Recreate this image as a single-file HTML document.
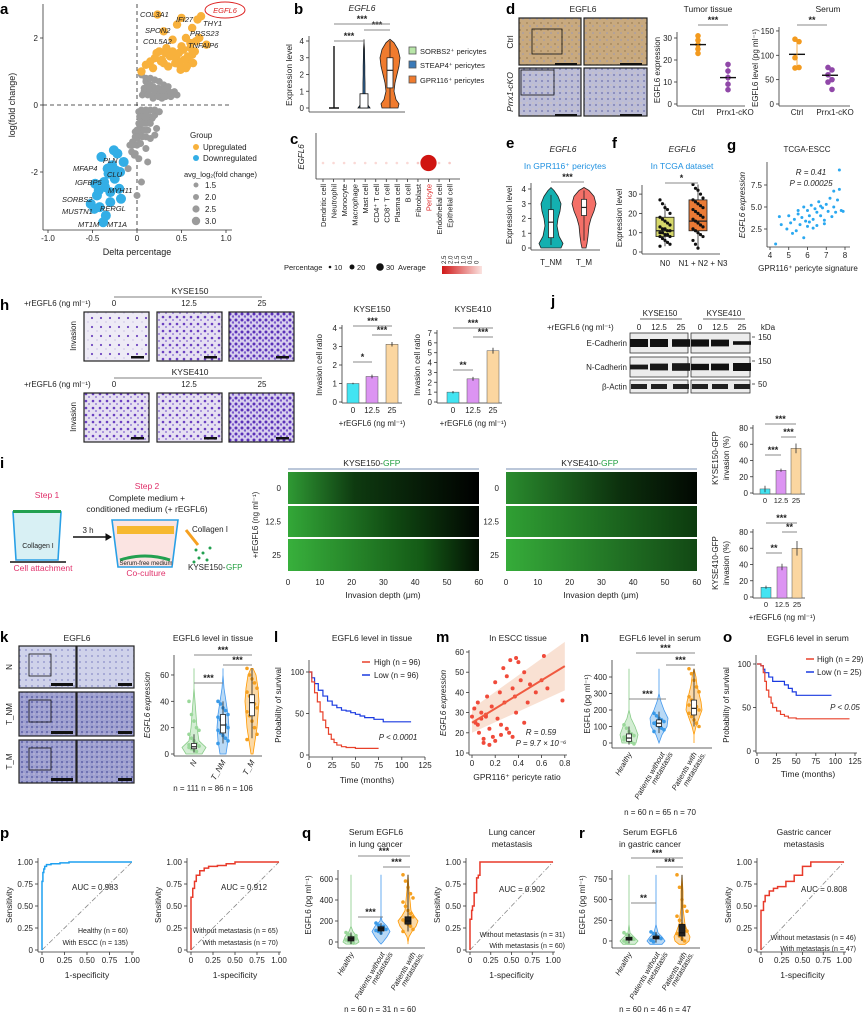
<!DOCTYPE html>
<html><head><meta charset="utf-8">
<style>
html,body{margin:0;padding:0;background:#fff;}
svg{display:block;font-family:"Liberation Sans",sans-serif;}
</style></head>
<body>
<svg id="fig" xmlns="http://www.w3.org/2000/svg" width="865" height="1014" viewBox="0 0 865 1014">
<defs>
<pattern id="brownTex" width="7" height="7" patternUnits="userSpaceOnUse"><rect width="7" height="7" fill="#c8a97e"/><circle cx="2" cy="2" r="1" fill="#a98a60"/><circle cx="5" cy="5" r="0.8" fill="#9a9ab8"/></pattern>
<pattern id="blueTex" width="6" height="6" patternUnits="userSpaceOnUse"><rect width="6" height="6" fill="#bcbdd6"/><circle cx="2" cy="3" r="1" fill="#7f82b8"/><circle cx="5" cy="1" r="0.6" fill="#d8c8b0"/></pattern>
<pattern id="pur1" width="9" height="9" patternUnits="userSpaceOnUse"><rect width="9" height="9" fill="#eeebf6"/><circle cx="2" cy="3" r="1.1" fill="#7048c0"/><circle cx="7" cy="7" r="0.6" fill="#b8a8dc"/></pattern>
<pattern id="pur2" width="7" height="7" patternUnits="userSpaceOnUse"><rect width="7" height="7" fill="#e6e0f2"/><circle cx="2" cy="2" r="1.3" fill="#6a40c0"/><circle cx="5" cy="5" r="1" fill="#9a80d8"/></pattern>
<pattern id="pur3" width="6" height="6" patternUnits="userSpaceOnUse"><rect width="6" height="6" fill="#d8cfee"/><circle cx="2" cy="2" r="1.5" fill="#5a30b8"/><circle cx="5" cy="4.5" r="1.2" fill="#7a58cc"/></pattern>
<pattern id="kTexN" width="6" height="6" patternUnits="userSpaceOnUse"><rect width="6" height="6" fill="#cfd2ea"/><circle cx="2" cy="2" r="0.9" fill="#8a8ec8"/></pattern>
<pattern id="kTex" width="5" height="5" patternUnits="userSpaceOnUse"><rect width="5" height="5" fill="#9ea0d0"/><circle cx="2" cy="2" r="1" fill="#6064a8"/><circle cx="4" cy="4" r="0.7" fill="#c8c0d8"/></pattern>
<linearGradient id="g0" x1="0" x2="1"><stop offset="0" stop-color="#2f9a34"/><stop offset="0.35" stop-color="#0e3a10"/><stop offset="1" stop-color="#000"/></linearGradient>
<linearGradient id="g1" x1="0" x2="1"><stop offset="0" stop-color="#33a838"/><stop offset="0.55" stop-color="#104a12"/><stop offset="1" stop-color="#010501"/></linearGradient>
<linearGradient id="g2" x1="0" x2="1"><stop offset="0" stop-color="#38b03c"/><stop offset="0.7" stop-color="#145a16"/><stop offset="1" stop-color="#031003"/></linearGradient>
<linearGradient id="h0" x1="0" x2="1"><stop offset="0" stop-color="#2a8c2e"/><stop offset="0.6" stop-color="#0c300d"/><stop offset="1" stop-color="#020802"/></linearGradient>
<linearGradient id="h1" x1="0" x2="1"><stop offset="0" stop-color="#30a034"/><stop offset="1" stop-color="#0c3a0e"/></linearGradient>
<linearGradient id="h2" x1="0" x2="1"><stop offset="0" stop-color="#36ac3a"/><stop offset="1" stop-color="#124814"/></linearGradient>
<linearGradient id="cgrad" x1="0" x2="1"><stop offset="0" stop-color="#d01818"/><stop offset="1" stop-color="#fbe3e0"/></linearGradient>
</defs>
</svg>
<script>
const svg=document.getElementById('fig');
const NS='http://www.w3.org/2000/svg';
function mk(tag,attrs,name,inter){
  const el=document.createElementNS(NS,tag);
  for(const k in attrs){el.setAttribute(k,attrs[k]);}
  
  
  svg.appendChild(el);return el;
}
function T(x,y,s,o){o=o||{};
  const el=mk('text',{x:x,y:y,'font-size':o.fs||8,fill:o.c||'#222','text-anchor':o.a||'middle','font-style':o.i?'italic':'normal','font-weight':o.b?'bold':'normal',transform:o.r?('rotate('+o.r+' '+x+' '+y+')'):''},o.n||'text-label');
  el.textContent=s;return el;}
function L(x1,y1,x2,y2,o){o=o||{};return mk('line',{x1:x1,y1:y1,x2:x2,y2:y2,stroke:o.c||'#333','stroke-width':o.w||0.8,'stroke-dasharray':o.d||''},o.n||'line');}
function R(x,y,w,h,fill,o){o=o||{};return mk('rect',{x:x,y:y,width:w,height:h,fill:fill,stroke:o.s||'none','stroke-width':o.w||0.8},o.n||'rect');}
function C(x,y,r,fill,o){o=o||{};return mk('circle',{cx:x,cy:y,r:r,fill:fill,stroke:o.s||'none','stroke-width':o.w||0.5,opacity:o.op||1},o.n||'point');}
function P(d,o){o=o||{};return mk('path',{d:d,fill:o.f||'none',stroke:o.c||'#333','stroke-width':o.w||1,'stroke-dasharray':o.d||'',opacity:o.op||1},o.n||'path');}
function letter(x,y,s){T(x,y,s,{fs:15,b:true,a:'start',c:'#000',n:'panel-letter-'+s});}
function yAxis(x,sc,ticks,y0,y1,name,labels){L(x,y0,x,y1,{n:name+'-line'});
  ticks.forEach(function(t,i){const y=sc(t);L(x-3,y,x,y,{n:name+'-tick'});T(x-5,y+3,labels?labels[i]:String(t),{a:'end',n:name+'-tick-label'});});}
function xAxis(y,sc,ticks,x0,x1,name,labels){L(x0,y,x1,y,{n:name+'-line'});
  ticks.forEach(function(t,i){const x=sc(t);L(x,y,x,y+3,{n:name+'-tick'});T(x,y+11,labels?labels[i]:String(t),{n:name+'-tick-label'});});}
function sig(x1,x2,y,s){L(x1,y,x2,y,{c:'#888',w:1,n:'significance-bar'});T((x1+x2)/2,y-2,s,{fs:9,b:true,n:'significance-stars'});}
function violin(cx,sc,levels,widths,fill,stroke,name){
  let d='M'+cx+','+sc(levels[0]);
  for(let i=0;i<levels.length;i++){d+=' L'+(cx+widths[i])+','+sc(levels[i]);}
  for(let i=levels.length-1;i>=0;i--){d+=' L'+(cx-widths[i])+','+sc(levels[i]);}
  P(d+'Z',{f:fill,c:stroke,w:0.8,n:name});}
function box(cx,sc,st,w,fill,stroke,name){
  L(cx,sc(st[0]),cx,sc(st[4]),{c:stroke,n:name+'-whisker'});
  R(cx-w/2,sc(st[3]),w,sc(st[1])-sc(st[3]),fill,{s:stroke,n:name});
  L(cx-w/2,sc(st[2]),cx+w/2,sc(st[2]),{c:stroke,w:1.2,n:name+'-median'});}
function stepPath(xs,ys,fx,fy){let d='M'+fx(xs[0])+','+fy(ys[0]);
  for(let i=1;i<xs.length;i++){d+=' H'+fx(xs[i])+' V'+fy(ys[i]);}return d;}

/* ===================== DATA ===================== */
const aUpDelta=[0.72,0.5,0.3,0.23,0.45,0.62,0.68,0.78,0.55,0.4,0.33,0.25,0.5,0.6,0.38,0.2,0.15,0.45,0.62,0.3,0.1,0.55,0.65,0.48,0.35,0.28,0.18,0.42,0.58,0.05,0.7,0.22,0.52,0.47,0.57,0.6,0.66,0.43,0.37,0.53,0.63,0.56,0.49,0.4,0.32,0.27];
const aUpFC=[2.65,2.6,2.2,2.7,2.4,2.3,2.55,1.8,2.0,1.95,1.7,1.6,1.75,1.85,1.5,1.4,1.3,1.35,1.5,1.25,1.2,1.1,1.6,1.2,1.15,1.35,1.1,1.45,1.3,1.0,2.0,1.55,1.65,1.55,1.45,1.7,1.9,1.25,1.45,1.35,1.25,1.15,1.05,1.6,1.55,1.3];
const aGrayDelta=[0.05,0.1,0.15,0.2,0.25,0.3,0.35,0.4,0.45,0.12,0.22,0.32,0.18,0.08,0.28,0.38,0.02,0.06,0.1,0.14,0.2,0.25,0.03,0.07,0.12,0.17,0.22,-0.02,0.0,0.04,-0.05,-0.08,0.1,0.15,0.2,0.02,-0.03,-0.1,0.05,0.0,0.12,
 0.1,0.15,0.2,0.25,0.3,0.35,0.12,0.18,0.24,0.3,0.36,0.42,0.08,0.14,0.2,0.26,0.32,0.38,0.06,0.12,0.18,0.24,0.3,0.05,0.1,0.15,0.2,0.25,0.03,0.08,0.13,0.18,0.02,0.06,0.1,0.15,0.0,0.04,0.08,0.12,-0.02,0.02,0.06,0.1,-0.05,0.0,0.04,-0.06,-0.02];
const aGrayFC=[0.9,0.7,0.6,0.5,0.45,0.4,0.35,0.3,0.3,0.35,0.3,0.25,0.2,0.4,0.2,0.25,-0.2,-0.3,-0.25,-0.35,-0.3,-0.2,-0.6,-0.5,-0.45,-0.4,-0.7,-0.8,-1.0,-0.9,-1.1,-1.2,-1.3,-1.0,-0.9,-1.6,-1.5,-1.9,-2.3,-2.7,-1.7,
 0.8,0.8,0.75,0.7,0.6,0.55,0.6,0.55,0.5,0.45,0.4,0.4,0.5,0.45,0.4,0.35,0.3,0.35,0.3,0.3,0.28,0.25,0.25,-0.15,-0.15,-0.15,-0.15,-0.2,-0.35,-0.35,-0.35,-0.35,-0.55,-0.55,-0.55,-0.55,-0.75,-0.75,-0.75,-0.75,-0.95,-0.95,-0.95,-0.95,-1.2,-1.2,-1.15,-1.4,-1.45];
const aDownDelta=[-0.38,-0.35,-0.42,-0.52,-0.47,-0.3,-0.25,-0.32,-0.28,-0.2,-0.36,-0.45,-0.4,-0.22,-0.15,-0.18,-0.3,-0.26,-0.48,-0.33,-0.37,-0.43,-0.24,-0.19];
const aDownFC=[-3.5,-3.3,-3.05,-2.95,-2.35,-2.6,-2.2,-2.05,-1.8,-2.5,-2.45,-2.7,-1.55,-1.45,-1.7,-2.8,-2.9,-1.35,-3.1,-1.9,-2.3,-2.55,-1.95,-2.0];

const bLevels=[0,0.25,0.5,1,1.5,2,2.5,3,3.5,3.9,4.1];
const bW3=[8,9,6,4,5,7,9,10,8,4,0];
const bW2=[6,3,1.2,1,1,0.8,0.8,0.6,0.5,0,0];
const bBox3=[0,1.2,2.25,3.0,4.0];
const bBox2=[0,0,0,0.85,0.85];

const cCells=['Dendritic cell','Neutrophil','Monocyte','Macrophage','Mast cell','CD4\u207A T cell','CD8\u207A T cell','Plasma cell','B cell','Fibroblast','Pericyte','Endothelial cell','Epithelial cell'];
const cPct=[2,2,2,2,2,2,2,2,2,5,30,3,5];
const cAvg=[0.1,0.1,0.1,0.1,0.1,0.1,0.1,0.1,0.1,0.3,2.5,0.2,0.3];

const dTumorCtrl=[31,29,27,25,23];
const dTumorKO=[18,15,12,9,6.5];
const dSerumCtrl=[133,128,95,75,74];
const dSerumKO=[75,70,60,50,45,30];

const eLevels=[0,0.3,0.8,1.5,2,2.5,3,3.5,3.9,4.1];
const eW1=[10,12,8,6,7,9,10,7,3,0];
const eW2=[2,3,4,5,7,10,12,10,5,0];
const eBox1=[0.2,0.7,1.75,2.6,3.6];
const eBox2=[0.5,2.2,2.75,3.3,3.9];

const fBox1=[3,8,11,18,25];
const fBox2=[2,11,16,27,35];
const fPts1=[27,25,23,22,20,18,17,16,15,14,13,12,12,11,11,10,10,9,9,8,8,7,6,5,4,3];
const fPts2=[35,33,32,30,28,27,26,25,24,23,22,21,20,19,18,17,16,15,14,13,12,11,10,9,8,6,4,2];

const gX=[4.3,4.6,4.9,5.0,5.1,5.3,5.4,5.5,5.6,5.7,5.8,5.9,6.0,6.0,6.1,6.2,6.3,6.4,6.5,6.5,6.6,6.7,6.8,6.9,7.0,7.1,7.2,7.3,7.4,7.5,7.6,7.7,7.8,5.2,5.8,6.3,6.9,7.4,4.5,5.5,6.1,6.7,7.9,7.7];
const gY=[0.8,3.0,2.5,4.0,3.2,3.6,2.3,4.2,3.0,3.8,5.0,3.4,4.6,2.8,4.0,5.2,3.6,4.8,2.9,4.4,5.6,4.0,4.9,3.5,5.3,4.5,6.0,3.9,5.0,4.4,5.8,9.2,4.6,2.0,1.5,2.6,3.1,6.8,3.9,4.6,3.3,5.1,4.5,7.0];

const hVals150=[1.0,1.38,3.12];
const hErr150=[0.04,0.1,0.12];
const hVals410=[1.0,2.35,5.2];
const hErr410=[0.12,0.2,0.3];
const hDose=['0','12.5','25'];

const iVals150=[5,28,55];
const iErr150=[4,2,6];
const iVals410=[12,37,60];
const iErr410=[2,4,9];

const jE150=[1.0,1.0,0.95];
const jE410=[0.9,0.85,0.45];
const jN150=[0.6,0.85,0.95];
const jN410=[0.8,0.85,1.0];

const kLevels=[0,5,10,20,30,40,50,60,65];
const kWN=[8,12,5,3,2,1,0,0,0];
const kWNM=[3,4,5,6,5,3,1,0,0];
const kWM=[1,2,3,5,6,7,6,4,1];
const kBoxN=[1,4,5.5,8,15];
const kBoxNM=[8,16,22,30,40];
const kBoxM=[12,29,39,45,65];
const kPtsN=[40,30,25,20,18,15,12,10,8,6,5,4,3,2,6,7];
const kPtsNM=[40,38,35,33,30,28,26,24,22,20,18,16,14,12,10,8];
const kPtsM=[65,60,57,54,50,47,44,41,38,35,32,29,25,20,15,11];

const lHighT=[0,3,6,9,12,15,18,21,24,27,30,35,40,45,50,55,60,65,70,75];
const lHighS=[100,88,75,64,52,42,33,25,19,15,12,10,9,9,8,8,8,8,8,8];
const lLowT=[0,3,6,10,15,20,25,30,35,40,45,50,55,60,70,80,90,100,110];
const lLowS=[100,93,86,78,71,65,60,57,54,53,51,49,47,45,43,40,40,40,40];

const mX=[0.0,0.02,0.03,0.05,0.06,0.08,0.1,0.12,0.13,0.15,0.17,0.18,0.2,0.22,0.24,0.25,0.27,0.28,0.3,0.32,0.33,0.35,0.37,0.38,0.4,0.42,0.45,0.48,0.5,0.55,0.6,0.62,0.65,0.78,0.1,0.15,0.2,0.05,0.25,0.3,0.35,0.08,0.12,0.45,0.38];
const mY=[28,32,25,35,20,30,17,28,38,22,33,18,45,27,40,24,52,35,48,20,56,42,38,30,55,46,50,35,44,40,46,58,42,36,15,14,16,24,19,22,18,27,29,25,57];
const mFit=[0.0,0.8];
const mFitY=[25,53];

const nLevels=[0,50,100,150,200,250,300,350,400,450];
const nWH=[7,9,6,2,0,0,0,0,0,0];
const nWWo=[0,3,8,9,5,2,0,0,0,0];
const nWW=[0,0,2,5,8,7,5,3,2,0];
const nBoxH=[-10,10,30,55,100];
const nBoxWo=[60,100,120,140,190];
const nBoxW=[100,170,210,260,450];
const nPtsH=[110,90,70,55,45,35,25,15,5,-5,20,40];
const nPtsWo=[180,165,150,140,130,120,110,100,90,80,70,125];
const nPtsW=[450,420,380,340,310,280,260,240,220,200,180,160,140,120,100,230];

const oHighT=[0,5,8,10,12,15,18,20,25,30,35,40,50,60,80,100,118];
const oHighS=[100,98,90,80,70,62,55,50,46,42,40,38,37,37,37,37,37];
const oLowT=[0,5,8,10,15,20,30,35,40,45,50,55,60,70,80,95];
const oLowS=[100,98,94,90,85,80,80,76,72,68,64,64,64,64,64,64];

const p1F=[0,0,0.01,0.02,0.03,0.05,0.1,0.2,0.3,0.5,0.7,1];
const p1T=[0,0.5,0.78,0.88,0.92,0.95,0.97,0.98,0.99,1,1,1];
const p2F=[0,0,0.02,0.04,0.06,0.1,0.15,0.2,0.3,0.4,0.5,0.6,0.7,1];
const p2T=[0,0.5,0.6,0.7,0.78,0.85,0.9,0.93,0.95,0.96,0.98,1,1,1];

const qLevels=[-20,0,50,100,150,200,250,300,400,500,640];
const qWH=[5,8,6,2,0,0,0,0,0,0,0];
const qWWo=[0,2,6,9,6,1,0,0,0,0,0];
const qWW=[0,0,1,4,8,10,6,3,2,1,0];
const qBoxH=[-20,10,30,50,90];
const qBoxWo=[70,105,125,145,180];
const qBoxW=[100,170,200,240,640];
const qPtsH=[90,70,55,40,30,20,10,0,-10,60];
const qPtsWo=[180,160,140,130,120,110,100,85,150];
const qPtsW=[640,580,520,460,420,380,340,300,270,240,210,190,170,150,120,100];
const qF=[0,0,0.02,0.03,0.05,0.08,0.1,0.12,0.15,0.3,1];
const qT=[0,0.3,0.35,0.45,0.5,0.65,0.82,0.85,1,1,1];

const rLevels=[-40,0,50,100,200,300,400,600,800];
const rWH=[6,9,5,1,0,0,0,0,0];
const rWWo=[6,9,6,2,0,0,0,0,0];
const rWW=[3,7,8,6,3,2,1,1,0];
const rBoxH=[-30,10,25,45,90];
const rBoxWo=[-20,25,40,60,110];
const rBoxW=[0,60,100,200,800];
const rPtsH=[100,80,60,40,20,0,-20,30];
const rPtsWo=[110,90,70,50,30,10,-10,45];
const rPtsW=[800,650,500,420,360,300,250,200,160,120,90,60,30,0];
const rF=[0,0,0.03,0.05,0.1,0.15,0.2,0.3,0.4,0.5,0.6,0.7,1];
const rT=[0,0.3,0.45,0.55,0.62,0.67,0.7,0.72,0.78,0.85,0.95,1,1];

/* ===================== PANEL A ===================== */
letter(0,14,'a');
const ax=function(v){return 137+v*89;}, ay=function(v){return 105-v*33.5;};
yAxis(43,ay,[2,0,-2],4,230,'a-y-axis');
xAxis(230,ax,[-1,-0.5,0,0.5,1],43,232,'a-x-axis',['-1.0','-0.5','0','0.5','1.0']);
L(ax(0),4,ax(0),230,{d:'4,3',c:'#222',n:'a-vertical-dashed'});
L(43,ay(0),232,ay(0),{d:'4,3',c:'#222',n:'a-horizontal-dashed'});
aGrayDelta.forEach(function(v,i){C(ax(v),ay(aGrayFC[i]),3.5,'#9b9b9b',{n:'a-gray-point'});});
aUpDelta.forEach(function(v,i){C(ax(v),ay(aUpFC[i]),4.2,'#f8b13c',{n:'a-up-point'});});
aDownDelta.forEach(function(v,i){C(ax(v),ay(aDownFC[i]),5,'#33aee6',{n:'a-down-point'});});
T(137,255,'Delta percentage',{fs:9,n:'a-x-title'});
T(15,105,'log(fold change)',{fs:9,r:-90,n:'a-y-title'});
[['COL3A1',140,17],['IFI27',176,22],['THY1',203,26],['SPON2',145,33],['PRSS23',190,36],['COL5A2',143,44],['TNFAIP6',188,48],
 ['PLN',103,163],['MFAP4',73,171],['CLU',107,177],['IGFBP5',75,185],['MYH11',108,193],['SORBS2',62,202],['RERGL',100,211],['MUSTN1',62,214],['MT1M',78,227],['MT1A',107,227]].forEach(function(g){T(g[1],g[2],g[0],{fs:7.5,i:true,a:'start',n:'a-gene-label'});});
mk('ellipse',{cx:225,cy:10,rx:20,ry:8,fill:'none',stroke:'#d22','stroke-width':1},'a-egfl6-highlight');
T(225,13,'EGFL6',{fs:7.5,i:true,c:'#d22',n:'a-egfl6-label'});
T(190,138,'Group',{fs:8,a:'start',n:'a-legend-title'});
C(196,147,3,'#f8b13c',{n:'a-legend-up-dot'});T(203,150,'Upregulated',{fs:8,a:'start',n:'a-legend-up'});
C(196,158,3,'#33aee6',{n:'a-legend-down-dot'});T(203,161,'Downregulated',{fs:8,a:'start',n:'a-legend-down'});
T(184,177,'avg_log\u2082(fold change)',{fs:7.5,a:'start',n:'a-legend-size-title'});
[['1.5',2.5,185],['2.0',3,197],['2.5',3.6,209],['3.0',4.2,221]].forEach(function(s){C(196,s[2],s[1],'#9b9b9b',{n:'a-legend-size-dot'});T(205,s[2]+3,s[0],{fs:8,a:'start',n:'a-legend-size-label'});});

/* ===================== PANEL B ===================== */
letter(294,14,'b');
const by=function(v){return 108-v*16.75;};
yAxis(309,by,[0,1,2,3,4],36,112,'b-y-axis');
L(309,112,405,112,{n:'b-x-axis'});
T(292,75,'Expression level',{fs:8.5,r:-90,n:'b-y-title'});
T(362,11,'EGFL6',{fs:8.5,i:true,n:'b-title'});
L(334,by(0),334,by(3.7),{c:'#111',w:1.4,n:'b-sorbs2-violin'});
L(329,by(0),339,by(0),{c:'#111',w:1.5,n:'b-sorbs2-base'});
violin(364,by,bLevels,bW2,'#3a7ab8','#111','b-steap4-violin');
R(360,by(bBox2[3]),8,by(0)-by(bBox2[3]),'#fff',{s:'#111',n:'b-steap4-box'});
violin(390,by,bLevels,bW3,'#f07b2e','#222','b-gpr116-violin');
box(390,by,bBox3,6,'#fff','#222','b-gpr116-box');
sig(334,364,41,'***');sig(364,390,30,'***');sig(334,390,24,'***');
[['SORBS2\u207A pericytes','#b8e6a8',51],['STEAP4\u207A pericytes','#3a7ab8',65],['GPR116\u207A pericytes','#f07b2e',80]].forEach(function(l){R(409,l[2]-4,7,7,l[1],{s:'#555',n:'b-legend-swatch'});T(420,l[2]+3,l[0],{fs:7.5,a:'start',n:'b-legend-label'});});

/* ===================== PANEL C ===================== */
letter(290,144,'c');
L(316,133,316,179,{n:'c-y-axis'});L(316,179,460,179,{n:'c-x-axis'});
T(304,157,'EGFL6',{fs:8,i:true,r:-90,n:'c-row-label'});
const cx=function(i){return 323+i*10.55;};
cCells.forEach(function(c,i){
  const r=1+Math.sqrt(cPct[i])*1.3;
  const t=cAvg[i]/2.5;
  const col='rgb('+Math.round(252-t*44)+','+Math.round(225-t*205)+','+Math.round(222-t*205)+')';
  C(cx(i),163,cPct[i]>10?r:1.3,col,{n:'c-dot'});
  L(cx(i),179,cx(i),182,{n:'c-tick'});
  T(cx(i)+3,184,c,{fs:7.5,a:'end',r:-90,c:c==='Pericyte'?'#d22':'#222',n:'c-cell-label'});
});
T(284,270,'Percentage',{fs:7.5,a:'start',n:'c-legend-title'});
C(330,267,1.3,'#111',{n:'c-legend-dot'});T(334,270,'10',{fs:7.5,a:'start',n:'c-legend-label'});
C(352,267,2.5,'#111',{n:'c-legend-dot'});T(357,270,'20',{fs:7.5,a:'start',n:'c-legend-label'});
C(380,267,3.8,'#111',{n:'c-legend-dot'});T(386,270,'30',{fs:7.5,a:'start',n:'c-legend-label'});
T(398,270,'Average',{fs:7.5,a:'start',n:'c-legend-avg'});
R(442,266,40,8,'url(#cgrad)',{n:'c-color-bar'});
['2.5','2.0','1.5','1.0','0.5','0'].forEach(function(s,i){T(446+i*6.5,264,s,{fs:6,a:'start',r:-90,n:'c-colorbar-tick'});});

/* ===================== PANEL D ===================== */
letter(506,14,'d');
T(583,12,'EGFL6',{fs:8.5,n:'d-title'});
R(519,18,62,47,'url(#brownTex)',{s:'#222',w:1.2,n:'d-ctrl-low-image'});
R(584,18,63,47,'url(#brownTex)',{s:'#222',w:1.2,n:'d-ctrl-high-image'});
R(519,68,62,48,'url(#blueTex)',{s:'#222',w:1.2,n:'d-cko-low-image'});
R(584,68,63,48,'url(#blueTex)',{s:'#222',w:1.2,n:'d-cko-high-image'});
R(532,29,30,25,'none',{s:'#111',n:'d-ctrl-zoom-box'});
R(521,70,33,25,'none',{s:'#111',n:'d-cko-zoom-box'});
[[555,63],[620,63],[555,114],[620,114]].forEach(function(b){R(b[0],b[1],22,2,'#111',{n:'d-scale-bar'});});
T(513,42,'Ctrl',{fs:8.5,r:-90,n:'d-row-ctrl'});
T(513,92,'Prrx1-cKO',{fs:8.5,i:true,r:-90,n:'d-row-cko'});
T(708,12,'Tumor tissue',{fs:8.5,n:'d-tumor-title'});
const dty=function(v){return 104-v*2.2;};
yAxis(677,dty,[0,10,20,30],32,106,'d-tumor-y-axis');
L(677,106,745,106,{n:'d-tumor-x-axis'});
T(660,70,'EGFL6 expression',{fs:8,r:-90,n:'d-tumor-y-title'});
dTumorCtrl.forEach(function(v){C(698,dty(v),2.8,'#f39a1e',{n:'d-tumor-ctrl-point'});});
dTumorKO.forEach(function(v){C(728,dty(v),2.8,'#9048a8',{n:'d-tumor-cko-point'});});
L(690,dty(27),706,dty(27),{c:'#111',w:1.4,n:'d-tumor-ctrl-mean'});L(698,dty(23),698,dty(31),{c:'#f39a1e',n:'d-tumor-ctrl-err'});
L(720,dty(12),736,dty(12),{c:'#111',w:1.4,n:'d-tumor-cko-mean'});L(728,dty(6.5),728,dty(18),{c:'#9048a8',n:'d-tumor-cko-err'});
sig(698,728,25,'***');
T(698,115,'Ctrl',{fs:8,n:'d-tumor-x-label'});T(735,115,'Prrx1-cKO',{fs:8,n:'d-tumor-x-label'});
T(828,12,'Serum',{fs:8.5,n:'d-serum-title'});
const dsy=function(v){return 104-v*0.487;};
yAxis(779,dsy,[0,50,100,150],27,106,'d-serum-y-axis');
L(779,106,850,106,{n:'d-serum-x-axis'});
T(758,68,'EGFL6 level (pg ml\u207B\u00B9)',{fs:8,r:-90,n:'d-serum-y-title'});
dSerumCtrl.forEach(function(v,i){C(797+(i%2?2:-2),dsy(v),2.8,'#f39a1e',{n:'d-serum-ctrl-point'});});
dSerumKO.forEach(function(v,i){C(830+(i%2?2:-2),dsy(v),2.8,'#9048a8',{n:'d-serum-cko-point'});});
L(789,dsy(102),805,dsy(102),{c:'#111',w:1.4,n:'d-serum-ctrl-mean'});L(797,dsy(70),797,dsy(133),{c:'#f39a1e',n:'d-serum-ctrl-err'});
L(822,dsy(59),838,dsy(59),{c:'#111',w:1.4,n:'d-serum-cko-mean'});L(830,dsy(42),830,dsy(75),{c:'#9048a8',n:'d-serum-cko-err'});
sig(797,827,25,'**');
T(797,115,'Ctrl',{fs:8,n:'d-serum-x-label'});T(835,115,'Prrx1-cKO',{fs:8,n:'d-serum-x-label'});

/* ===================== PANEL E ===================== */
letter(506,148,'e');
T(563,152,'EGFL6',{fs:8.5,i:true,n:'e-title'});
T(565,169,'In GPR116\u207A pericytes',{fs:8.5,c:'#1e90e0',n:'e-subtitle'});
const ey=function(v){return 248-v*14.75;};
yAxis(531,ey,[0,1,2,3,4],183,250,'e-y-axis');
L(531,250,600,250,{n:'e-x-axis'});
T(512,215,'Expression level',{fs:8,r:-90,n:'e-y-title'});
violin(551,ey,eLevels,eW1,'#14b0b0','#222','e-tnm-violin');
box(551,ey,eBox1,5,'#fff','#222','e-tnm-box');
violin(584,ey,eLevels,eW2,'#f47068','#222','e-tm-violin');
box(584,ey,eBox2,5,'#fff','#222','e-tm-box');
sig(551,584,182,'***');
T(551,265,'T_NM',{fs:8,n:'e-x-label'});T(584,265,'T_M',{fs:8,n:'e-x-label'});

/* ===================== PANEL F ===================== */
letter(612,148,'f');
T(682,152,'EGFL6',{fs:8.5,i:true,n:'f-title'});
T(682,169,'In TCGA dataset',{fs:8.5,c:'#1e90e0',n:'f-subtitle'});
const fy=function(v){return 252-v*1.93;};
yAxis(642,fy,[0,10,20,30],185,254,'f-y-axis');
L(642,254,720,254,{n:'f-x-axis'});
T(622,218,'Expression level',{fs:8,r:-90,n:'f-y-title'});
box(665,fy,fBox1,18,'#d6d86a','#222','f-n0-box');
box(698,fy,fBox2,18,'#ea7a35','#222','f-n123-box');
fPts1.forEach(function(v,i){C(665+((i%5)-2)*2.5,fy(v),1.6,'#111',{n:'f-n0-point'});});
fPts2.forEach(function(v,i){C(698+((i%5)-2)*2.5,fy(v),1.6,'#111',{n:'f-n123-point'});});
sig(665,698,183,'*');
T(665,266,'N0',{fs:8,n:'f-x-label'});T(703,266,'N1 + N2 + N3',{fs:8,n:'f-x-label'});

/* ===================== PANEL G ===================== */
letter(727,150,'g');
T(807,152,'TCGA-ESCC',{fs:8,n:'g-title'});
const gx=function(v){return 770+(v-4)*18.75;}, gy=function(v){return 229-(v-2.5)*8.8;};
yAxis(767,gy,[2.5,5.0,7.5],162,247,'g-y-axis',['2.5','5.0','7.5']);
xAxis(247,gx,[4,5,6,7,8],767,850,'g-x-axis');
gX.forEach(function(v,i){C(gx(v),gy(gY[i]),1.5,'#2aa8f0',{n:'g-point'});});
T(811,175,'R = 0.41',{fs:8,i:true,n:'g-r-value'});
T(811,186,'P = 0.00025',{fs:8,i:true,n:'g-p-value'});
T(745,205,'EGFL6 expression',{fs:8,i:true,r:-90,n:'g-y-title'});
T(808,271,'GPR116\u207A pericyte signature',{fs:8,n:'g-x-title'});

/* ===================== PANEL H ===================== */
letter(0,310,'h');
T(190,294,'KYSE150',{fs:8.5,n:'h-kyse150-header'});L(114,297,262,297,{c:'#555',n:'h-header-line'});
T(24,306,'+rEGFL6 (ng ml\u207B\u00B9)',{fs:8,a:'start',n:'h-dose-label'});
T(24,387,'+rEGFL6 (ng ml\u207B\u00B9)',{fs:8,a:'start',n:'h-dose-label'});
T(190,375,'KYSE410',{fs:8.5,n:'h-kyse410-header'});L(114,378,262,378,{c:'#555',n:'h-header-line'});
[[114,'0'],[189,'12.5'],[262,'25']].forEach(function(d){T(d[0],306,d[1],{fs:8,n:'h-dose-value'});T(d[0],387,d[1],{fs:8,n:'h-dose-value'});});
[[84,'pur1'],[157,'pur2'],[229,'pur3']].forEach(function(im,i){
  R(im[0],312,65,49,'url(#'+im[1]+')',{s:'#222',w:1.2,n:'h-kyse150-image'});
  R(im[0],393,65,49,'url(#'+['pur2','pur2','pur3'][i]+')',{s:'#222',w:1.2,n:'h-kyse410-image'});
  R(im[0]+47,356,13,2.5,'#111',{n:'h-scale-bar'});R(im[0]+47,437,13,2.5,'#111',{n:'h-scale-bar'});
});
T(76,336,'Invasion',{fs:8,r:-90,n:'h-row-label'});T(76,417,'Invasion',{fs:8,r:-90,n:'h-row-label'});
const hbx=[353,372,392], hbx2=[453,473,493], hcol=['#42e4f2','#dc94f2','#fbd6a0'];
const hy1=function(v){return 402-v*18.5;}, hy2=function(v){return 402-v*9.86;};
T(372,312,'KYSE150',{fs:8.5,n:'h-bar1-title'});T(473,312,'KYSE410',{fs:8.5,n:'h-bar2-title'});
yAxis(342,hy1,[0,1,2,3,4],325,403,'h-bar1-y-axis');L(342,403,402,403,{n:'h-bar1-x-axis'});
yAxis(437,hy2,[0,1,2,3,4,5,6,7],330,403,'h-bar2-y-axis');L(437,403,502,403,{n:'h-bar2-x-axis'});
T(322,365,'Invasion cell ratio',{fs:8,r:-90,n:'h-bar1-y-title'});T(420,365,'Invasion cell ratio',{fs:8,r:-90,n:'h-bar2-y-title'});
hVals150.forEach(function(v,i){R(hbx[i]-6,hy1(v),12,403-hy1(v),hcol[i],{s:'#555',w:0.5,n:'h-bar1-bar'});L(hbx[i],hy1(v+hErr150[i]),hbx[i],hy1(v-hErr150[i]),{c:'#222',n:'h-bar1-err'});T(hbx[i],413,hDose[i],{fs:8,n:'h-bar1-x-label'});});
hVals410.forEach(function(v,i){R(hbx2[i]-6,hy2(v),12,403-hy2(v),hcol[i],{s:'#555',w:0.5,n:'h-bar2-bar'});L(hbx2[i],hy2(v+hErr410[i]),hbx2[i],hy2(v-hErr410[i]),{c:'#222',n:'h-bar2-err'});T(hbx2[i],413,hDose[i],{fs:8,n:'h-bar2-x-label'});});
sig(353,372,362,'*');sig(372,392,335,'***');sig(353,392,326,'***');
sig(453,473,370,'**');sig(473,493,337,'***');sig(453,493,328,'***');
T(372,426,'+rEGFL6 (ng ml\u207B\u00B9)',{fs:8,n:'h-bar1-x-title'});T(473,426,'+rEGFL6 (ng ml\u207B\u00B9)',{fs:8,n:'h-bar2-x-title'});

/* ===================== PANEL J ===================== */
letter(551,306,'j');
T(660,316,'KYSE150',{fs:8,n:'j-kyse150-header'});L(640,319,682,319,{n:'j-header-line'});
T(724,316,'KYSE410',{fs:8,n:'j-kyse410-header'});L(703,319,745,319,{n:'j-header-line'});
T(547,330,'+rEGFL6 (ng ml\u207B\u00B9)',{fs:8,a:'start',n:'j-dose-label'});
const jx1=[639,659,681], jx2=[700,720,742];
hDose.forEach(function(d,i){T(jx1[i],330,d,{fs:8,n:'j-lane-label'});T(jx2[i],330,d,{fs:8,n:'j-lane-label'});});
T(768,330,'kDa',{fs:8,n:'j-kda'});
[['E-Cadherin',333,353,'150'],['N-Cadherin',357,377,'150'],['\u03B2-Actin',380,393,'50']].forEach(function(r){
  T(627,(r[1]+r[2])/2+3,r[0],{fs:8,a:'end',n:'j-row-label'});
  R(630,r[1],58,r[2]-r[1],'#ececec',{s:'#333',n:'j-blot-frame'});R(691,r[1],59,r[2]-r[1],'#ececec',{s:'#333',n:'j-blot-frame'});
  L(752,r[1]+4,755,r[1]+4,{n:'j-kda-tick'});T(758,r[1]+7,r[3],{fs:8,a:'start',n:'j-kda-label'});
});
jE150.forEach(function(v,i){R(jx1[i]-9,343-4*v,18,8*v,'#111',{n:'j-ecad-band'});});
jE410.forEach(function(v,i){R(jx2[i]-9,343-4*v,18,8*v,'#111',{n:'j-ecad-band'});});
jN150.forEach(function(v,i){R(jx1[i]-9,367-4*v,18,8*v,'#1a1a1a',{n:'j-ncad-band'});});
jN410.forEach(function(v,i){R(jx2[i]-9,367-4*v,18,8*v,'#111',{n:'j-ncad-band'});});
jx1.concat(jx2).forEach(function(x){R(x-8,384,16,5,'#222',{n:'j-actin-band'});});

/* ===================== PANEL I ===================== */
letter(0,468,'i');
T(47,498,'Step 1',{fs:8.5,c:'#e0306a',n:'i-step1'});
T(147,489,'Step 2',{fs:8.5,c:'#e0306a',n:'i-step2'});
T(147,501,'Complete medium +',{fs:8.5,n:'i-step2-text'});
T(147,512,'conditioned medium (+ rEGFL6)',{fs:8.5,n:'i-step2-text'});
P('M13,512 L61,512 L58,560 L16,560 Z',{f:'#d8f0f4',c:'#2aa0e6',w:1.6,n:'i-cup1'});
R(13,510,48,3,'#22a050',{n:'i-cup1-cells'});
T(38,548,'Collagen I',{fs:7,n:'i-cup1-label'});
L(10,562,66,562,{c:'#111',w:1.5,n:'i-baseline'});
T(43,571,'Cell attachment',{fs:8.5,c:'#e0306a',n:'i-cell-attachment'});
T(88,533,'3 h',{fs:8,n:'i-3h'});L(73,537,106,537,{c:'#111',w:1.5,n:'i-arrow'});P('M106,534 L111,537 L106,540 Z',{f:'#111',c:'#111',n:'i-arrowhead'});
P('M112,520 L178,520 L172,567 L118,567 Z',{f:'#fbe4e2',c:'#2aa0e6',w:1.6,n:'i-cup2'});
R(117,526,57,8,'#f6b830',{n:'i-cup2-collagen'});
P('M120,560 Q145,552 170,560',{c:'#22a050',w:3,n:'i-cup2-cells'});
T(146,565,'Serum-free medium',{fs:6,n:'i-serum-free'});
T(146,576,'Co-culture',{fs:8.5,c:'#e0306a',n:'i-coculture'});
T(192,532,'Collagen I',{fs:8,a:'start',n:'i-collagen-label'});
P('M186,530 L198,545',{c:'#f6a020',w:3,n:'i-collagen-icon'});
T(188,570,'KYSE150-',{fs:8,a:'start',n:'i-kyse150gfp'});T(226,570,'GFP',{fs:8,a:'start',c:'#22a040',n:'i-gfp'});
[[196,550],[203,553],[199,558],[207,560],[194,562],[210,548]].forEach(function(p){C(p[0],p[1],1.5,'#22a050',{n:'i-cell-icon'});});
T(383,466,'KYSE150-',{fs:8.5,a:'end',n:'i-img1-title'});T(383,466,'GFP',{fs:8.5,a:'start',c:'#22a040',n:'i-img1-title-gfp'});
T(601,466,'KYSE410-',{fs:8.5,a:'end',n:'i-img2-title'});T(601,466,'GFP',{fs:8.5,a:'start',c:'#22a040',n:'i-img2-title-gfp'});
L(288,469,479,469,{c:'#4a6a9a',n:'i-img1-arrow'});L(506,469,697,469,{c:'#4a6a9a',n:'i-img2-arrow'});
[[472,504],[506,537],[539,571]].forEach(function(r,i){
  R(288,r[0],191,r[1]-r[0],'url(#g'+i+')',{n:'i-kyse150-image'});
  R(506,r[0],191,r[1]-r[0],'url(#h'+i+')',{n:'i-kyse410-image'});
  T(281,(r[0]+r[1])/2+3,hDose[i],{fs:8,a:'end',n:'i-dose-label'});T(499,(r[0]+r[1])/2+3,hDose[i],{fs:8,a:'end',n:'i-dose-label'});
});
T(258,525,'+rEGFL6 (ng ml\u207B\u00B9)',{fs:8,r:-90,n:'i-dose-title'});
const idx1=function(v){return 288+v*3.18;}, idx2=function(v){return 506+v*3.18;};
[0,10,20,30,40,50,60].forEach(function(v){T(idx1(v),585,String(v),{fs:8,n:'i-x-tick-label'});T(idx2(v),585,String(v),{fs:8,n:'i-x-tick-label'});});
T(383,598,'Invasion depth (\u03BCm)',{fs:8.5,n:'i-x-title'});T(601,598,'Invasion depth (\u03BCm)',{fs:8.5,n:'i-x-title'});
const iy1=function(v){return 493-v*0.8125;}, iy2=function(v){return 597-v*0.8125;};
const ibx=[765,781,796], ibx2=[766,782,797];
yAxis(753,iy1,[0,20,40,60,80],425,494,'i-bar1-y-axis');L(753,494,805,494,{n:'i-bar1-x-axis'});
yAxis(753,iy2,[0,20,40,60,80],529,598,'i-bar2-y-axis');L(753,598,805,598,{n:'i-bar2-x-axis'});
T(718,458,'KYSE150-GFP',{fs:8,r:-90,n:'i-bar1-y-title'});T(729,458,'invasion (%)',{fs:8,r:-90,n:'i-bar1-y-title2'});
T(718,563,'KYSE410-GFP',{fs:8,r:-90,n:'i-bar2-y-title'});T(729,563,'invasion (%)',{fs:8,r:-90,n:'i-bar2-y-title2'});
iVals150.forEach(function(v,i){R(ibx[i]-5,iy1(v),10,494-iy1(v),hcol[i],{s:'#555',w:0.5,n:'i-bar1-bar'});L(ibx[i],iy1(v+iErr150[i]),ibx[i],iy1(Math.max(0,v-iErr150[i])),{n:'i-bar1-err'});T(ibx[i],503,hDose[i],{fs:7.5,n:'i-bar1-x-label'});});
iVals410.forEach(function(v,i){R(ibx2[i]-5,iy2(v),10,598-iy2(v),hcol[i],{s:'#555',w:0.5,n:'i-bar2-bar'});L(ibx2[i],iy2(v+iErr410[i]),ibx2[i],iy2(v-iErr410[i]),{n:'i-bar2-err'});T(ibx2[i],607,hDose[i],{fs:7.5,n:'i-bar2-x-label'});});
sig(765,781,455,'***');sig(781,796,437,'***');sig(765,796,424,'***');
sig(766,782,553,'**');sig(782,797,532,'**');sig(766,797,523,'***');
T(782,620,'+rEGFL6 (ng ml\u207B\u00B9)',{fs:8,n:'i-bar2-x-title'});

/* ===================== PANEL K ===================== */
letter(0,642,'k');
T(77,641,'EGFL6',{fs:8.5,n:'k-img-title'});
[[646,688,'kTexN','N'],[692,736,'kTex','T_NM'],[740,783,'kTex','T_M']].forEach(function(r){
  R(19,r[0],57,r[1]-r[0],'url(#'+r[2]+')',{s:'#222',w:1.2,n:'k-low-image'});
  R(77,r[0],57,r[1]-r[0],'url(#'+r[2]+')',{s:'#222',w:1.2,n:'k-high-image'});
  R(29,r[0]+8,22,22,'none',{s:'#111',n:'k-zoom-box'});
  R(51,r[1]-5,22,3,'#111',{n:'k-scale-bar'});R(118,r[1]-5,14,3,'#111',{n:'k-scale-bar'});
  T(12,(r[0]+r[1])/2,r[3],{fs:8,r:-90,n:'k-row-label'});
});
T(213,641,'EGFL6 level in tissue',{fs:8.5,n:'k-title'});
const ky=function(v){return 754-v*1.317;};
const kgx=[194,223,252];
yAxis(174,ky,[0,20,40,60],655,756,'k-y-axis');L(174,756,262,756,{n:'k-x-axis'});
T(150,705,'EGFL6 expression',{fs:8,i:true,r:-90,n:'k-y-title'});
violin(kgx[0],ky,kLevels,kWN,'rgba(168,220,168,0.5)','#8c8','k-n-violin');
violin(kgx[1],ky,kLevels,kWNM,'rgba(80,160,230,0.4)','#49e','k-tnm-violin');
violin(kgx[2],ky,kLevels,kWM,'rgba(245,160,32,0.4)','#f90','k-tm-violin');
kPtsN.forEach(function(v,i){C(kgx[0]+((i%5)-2)*2.5,ky(v),1.8,'#9ad89a',{n:'k-n-point'});});
kPtsNM.forEach(function(v,i){C(kgx[1]+((i%5)-2)*2.5,ky(v),1.8,'#3a9ae8',{n:'k-tnm-point'});});
kPtsM.forEach(function(v,i){C(kgx[2]+((i%5)-2)*2.5,ky(v),1.8,'#f5a020',{n:'k-tm-point'});});
box(kgx[0],ky,kBoxN,5,'#fff','#222','k-n-box');box(kgx[1],ky,kBoxNM,5,'#fff','#222','k-tnm-box');box(kgx[2],ky,kBoxM,5,'#fff','#222','k-tm-box');
sig(194,223,683,'***');sig(223,252,665,'***');sig(194,252,655,'***');
['N','T_NM','T_M'].forEach(function(s,i){T(kgx[i]+3,762,s,{fs:8,i:true,a:'end',r:-60,n:'k-x-label'});});
T(213,791,'n = 111   n = 86   n = 106',{fs:8,n:'k-n-counts'});

/* ===================== PANEL L ===================== */
letter(274,642,'l');
T(372,641,'EGFL6 level in tissue',{fs:8.5,n:'l-title'});
const lx=function(t){return 309+t*0.928;}, ly=function(p){return 755-p*0.83;};
yAxis(309,ly,[0,50,100],660,757,'l-y-axis');
xAxis(757,lx,[0,25,50,75,100,125],309,425,'l-x-axis');
T(281,705,'Probability of survival',{fs:8,r:-90,n:'l-y-title'});
T(367,783,'Time (months)',{fs:8.5,n:'l-x-title'});
P(stepPath(lLowT,lLowS,lx,ly),{c:'#1a3ae0',w:1.2,n:'l-low-curve'});
P(stepPath(lHighT,lHighS,lx,ly),{c:'#e8402a',w:1.2,n:'l-high-curve'});
L(362,662,370,662,{c:'#e8402a',w:1.5,n:'l-legend-high-line'});T(374,665,'High (n = 96)',{fs:8,a:'start',n:'l-legend-high'});
L(362,675,370,675,{c:'#1a3ae0',w:1.5,n:'l-legend-low-line'});T(374,678,'Low (n = 96)',{fs:8,a:'start',n:'l-legend-low'});
T(398,740,'P < 0.0001',{fs:8,i:true,n:'l-pvalue'});

/* ===================== PANEL M ===================== */
letter(436,642,'m');
T(518,641,'In ESCC tissue',{fs:8.5,n:'m-title'});
const mx=function(v){return 472+v*116;}, my=function(v){return 753-(v-10)*2.02;};
yAxis(469,my,[10,20,30,40,50,60],650,755,'m-y-axis');
xAxis(755,mx,[0,0.2,0.4,0.6,0.8],469,567,'m-x-axis',['0','0.2','0.4','0.6','0.8']);
P('M'+mx(0)+','+my(mFitY[0]+7)+' L'+mx(0.8)+','+my(mFitY[1]+12)+' L'+mx(0.8)+','+my(mFitY[1]-12)+' L'+mx(0)+','+my(mFitY[0]-5)+' Z',{f:'#f8d9c8',c:'none',op:0.8,n:'m-confidence-band'});
mX.forEach(function(v,i){C(mx(v),my(mY[i]),2,'#f04a3a',{n:'m-point'});});
L(mx(mFit[0]),my(mFitY[0]),mx(mFit[1]),my(mFitY[1]),{c:'#f05a40',w:2,n:'m-fit-line'});
T(541,735,'R = 0.59',{fs:8,i:true,n:'m-r-value'});T(541,746,'P = 9.7 \u00D7 10\u207B\u2076',{fs:8,i:true,n:'m-p-value'});
T(446,703,'EGFL6 expression',{fs:8,i:true,r:-90,n:'m-y-title'});
T(517,780,'GPR116\u207A pericyte ratio',{fs:8.5,n:'m-x-title'});

/* ===================== PANEL N ===================== */
letter(580,642,'n');
T(660,641,'EGFL6 level in serum',{fs:8.5,n:'n-title'});
const ny=function(v){return 743-v*0.165;};
const ngx=[629,659,694];
yAxis(612,ny,[0,100,200,300,400],660,748,'n-y-axis');L(612,748,712,748,{n:'n-x-axis'});
T(590,704,'EGFL6 (pg ml\u207B\u00B9)',{fs:8,r:-90,n:'n-y-title'});
violin(ngx[0],ny,nLevels,nWH,'rgba(168,220,168,0.5)','#8c8','n-healthy-violin');
violin(ngx[1],ny,nLevels,nWWo,'rgba(80,160,230,0.4)','#49e','n-without-violin');
violin(ngx[2],ny,nLevels,nWW,'rgba(245,160,32,0.4)','#f90','n-with-violin');
nPtsH.forEach(function(v,i){C(ngx[0]+((i%5)-2)*2.5,ny(v),1.8,'#9ad89a',{n:'n-healthy-point'});});
nPtsWo.forEach(function(v,i){C(ngx[1]+((i%5)-2)*2.5,ny(v),1.8,'#3a9ae8',{n:'n-without-point'});});
nPtsW.forEach(function(v,i){C(ngx[2]+((i%5)-2)*2.5,ny(v),1.8,'#f5a020',{n:'n-with-point'});});
box(ngx[0],ny,nBoxH,5,'#fff','#222','n-healthy-box');box(ngx[1],ny,nBoxWo,5,'#fff','#222','n-without-box');box(ngx[2],ny,nBoxW,5,'#fff','#222','n-with-box');
sig(629,666,699,'***');sig(666,695,665,'***');sig(636,695,653,'***');
['Healthy','Patients without','metastasis','Patients with','metastasis.'].forEach(function(s,i){const xs=[632,665,673,697,706];T(xs[i],754,s,{fs:7.5,i:true,a:'end',r:-60,n:'n-x-label'});});
T(660,815,'n = 60   n = 65   n = 70',{fs:8,n:'n-counts'});

/* ===================== PANEL O ===================== */
letter(723,642,'o');
T(808,641,'EGFL6 level in serum',{fs:8.5,n:'o-title'});
const ox=function(t){return 757+t*0.784;}, oy=function(p){return 751-p*0.87;};
yAxis(756,oy,[0,50,100],655,753,'o-y-axis');
xAxis(753,ox,[0,25,50,75,100,125],756,857,'o-x-axis');
T(729,705,'Probability of survival',{fs:8,r:-90,n:'o-y-title'});
T(808,777,'Time (months)',{fs:8.5,n:'o-x-title'});
P(stepPath(oLowT,oLowS,ox,oy),{c:'#1a3ae0',w:1.2,n:'o-low-curve'});
P(stepPath(oHighT,oHighS,ox,oy),{c:'#e8402a',w:1.2,n:'o-high-curve'});
L(806,659,814,659,{c:'#e8402a',w:1.5,n:'o-legend-high-line'});T(817,662,'High (n = 29)',{fs:8,a:'start',n:'o-legend-high'});
L(806,672,814,672,{c:'#1a3ae0',w:1.5,n:'o-legend-low-line'});T(817,675,'Low (n = 25)',{fs:8,a:'start',n:'o-legend-low'});
T(845,710,'P < 0.05',{fs:8,i:true,n:'o-pvalue'});

/* ===================== ROC helper ===================== */
function roc(x0,fpr,tpr,col,name){
  const fx=function(v){return x0+v*(name==='p1'?90:(name==='p2'?88:83));}, fy=function(v){return 950-v*88;};
  yAxis(x0-4,fy,[0,0.25,0.5,0.75,1],858,952,name+'-y-axis',['0','0.25','0.50','0.75','1.00']);
  xAxis(952,fx,[0,0.25,0.5,0.75,1],x0-4,fx(1)+2,name+'-x-axis',['0','0.25','0.50','0.75','1.00']);
  L(fx(0),fy(0),fx(1),fy(1),{c:'#888',d:'5,2,1,2',n:name+'-diagonal'});
  let d='M'+fx(fpr[0])+','+fy(tpr[0]);
  for(let i=1;i<fpr.length;i++){d+=' V'+fy(tpr[i])+' H'+fx(fpr[i]);}
  P(d,{c:col,w:1.5,n:name+'-roc-curve'});
  T(fx(0.5),978,'1-specificity',{fs:8.5,n:name+'-x-title'});
  T(x0-30,905,'Sensitivity',{fs:8,r:-90,n:name+'-y-title'});
  return fx;}

/* ===================== PANEL P ===================== */
letter(0,838,'p');
roc(42,p1F,p1T,'#1ea0f0','p1');
T(95,890,'AUC = 0.983',{fs:8,n:'p1-auc'});
T(128,933,'Healthy (n = 60)',{fs:7,a:'end',n:'p1-legend'});T(128,945,'With ESCC (n = 135)',{fs:7,a:'end',n:'p1-legend'});
roc(191,p2F,p2T,'#e83a2a','p2');
T(244,890,'AUC = 0.912',{fs:8,n:'p2-auc'});
T(278,933,'Without metastasis (n = 65)',{fs:7,a:'end',n:'p2-legend'});T(278,945,'With metastasis (n = 70)',{fs:7,a:'end',n:'p2-legend'});

/* ===================== PANEL Q ===================== */
letter(302,838,'q');
T(376,835,'Serum EGFL6',{fs:8.5,n:'q-title'});T(376,847,'in lung cancer',{fs:8.5,n:'q-title2'});
const qy=function(v){return 942-v*0.105;};
const qgx=[351,381,408];
yAxis(338,qy,[0,200,400,600],870,948,'q-y-axis');L(338,948,425,948,{n:'q-x-axis'});
T(311,905,'EGFL6 (pg ml\u207B\u00B9)',{fs:8,r:-90,n:'q-y-title'});
violin(qgx[0],qy,qLevels,qWH,'rgba(168,220,168,0.5)','#8c8','q-healthy-violin');
violin(qgx[1],qy,qLevels,qWWo,'rgba(80,160,230,0.4)','#49e','q-without-violin');
violin(qgx[2],qy,qLevels,qWW,'rgba(245,160,32,0.4)','#f90','q-with-violin');
qPtsH.forEach(function(v,i){C(qgx[0]+((i%5)-2)*2.5,qy(v),1.8,'#9ad89a',{n:'q-healthy-point'});});
qPtsWo.forEach(function(v,i){C(qgx[1]+((i%5)-2)*2.5,qy(v),1.8,'#3a9ae8',{n:'q-without-point'});});
qPtsW.forEach(function(v,i){C(qgx[2]+((i%5)-2)*2.5,qy(v),1.8,'#f5a020',{n:'q-with-point'});});
box(qgx[0],qy,qBoxH,6,'#222','#111','q-healthy-box');box(qgx[1],qy,qBoxWo,6,'#222','#111','q-without-box');box(qgx[2],qy,qBoxW,6,'#222','#111','q-with-box');
sig(358,383,917,'***');sig(383,410,867,'***');sig(358,410,856,'***');
['Healthy','Patients without','metastasis','Patients with','metastasis.'].forEach(function(s,i){const xs=[354,385,393,416,424];T(xs[i],954,s,{fs:7.5,i:true,a:'end',r:-60,n:'q-x-label'});});
T(380,1012,'n = 60   n = 31   n = 60',{fs:8,n:'q-counts'});
T(512,835,'Lung cancer',{fs:8.5,n:'q-roc-title'});T(512,847,'metastasis',{fs:8.5,n:'q-roc-title2'});
roc(470,qF,qT,'#e83a2a','q-roc');
T(522,892,'AUC = 0.902',{fs:8,n:'q-auc'});
T(565,937,'Without metastasis (n = 31)',{fs:7,a:'end',n:'q-legend'});T(565,948,'With metastasis (n = 60)',{fs:7,a:'end',n:'q-legend'});

/* ===================== PANEL R ===================== */
letter(579,838,'r');
T(650,835,'Serum EGFL6',{fs:8.5,n:'r-title'});T(650,847,'in gastric cancer',{fs:8.5,n:'r-title2'});
const ry=function(v){return 941-v*0.0827;};
const rgx=[629,656,682];
yAxis(612,ry,[0,250,500,750],870,948,'r-y-axis');L(612,948,700,948,{n:'r-x-axis'});
T(585,905,'EGFL6 (pg ml\u207B\u00B9)',{fs:8,r:-90,n:'r-y-title'});
violin(rgx[0],ry,rLevels,rWH,'rgba(168,220,168,0.5)','#8c8','r-healthy-violin');
violin(rgx[1],ry,rLevels,rWWo,'rgba(80,160,230,0.4)','#49e','r-without-violin');
violin(rgx[2],ry,rLevels,rWW,'rgba(245,160,32,0.4)','#f90','r-with-violin');
rPtsH.forEach(function(v,i){C(rgx[0]+((i%5)-2)*2.5,ry(v),1.8,'#9ad89a',{n:'r-healthy-point'});});
rPtsWo.forEach(function(v,i){C(rgx[1]+((i%5)-2)*2.5,ry(v),1.8,'#3a9ae8',{n:'r-without-point'});});
rPtsW.forEach(function(v,i){C(rgx[2]+((i%5)-2)*2.5,ry(v),1.8,'#f5a020',{n:'r-with-point'});});
box(rgx[0],ry,rBoxH,6,'#222','#111','r-healthy-box');box(rgx[1],ry,rBoxWo,6,'#222','#111','r-without-box');box(rgx[2],ry,rBoxW,6,'#222','#111','r-with-box');
sig(631,656,903,'**');sig(656,683,867,'***');sig(631,683,858,'***');
['Healthy','Patients without','metastasis','Patients with','metastasis.'].forEach(function(s,i){const xs=[632,660,668,687,694];T(xs[i],954,s,{fs:7.5,i:true,a:'end',r:-60,n:'r-x-label'});});
T(655,1012,'n = 60   n = 46   n = 47',{fs:8,n:'r-counts'});
T(804,835,'Gastric cancer',{fs:8.5,n:'r-roc-title'});T(804,847,'metastasis',{fs:8.5,n:'r-roc-title2'});
roc(761,rF,rT,'#e83a2a','r-roc');
T(824,892,'AUC = 0.808',{fs:8,n:'r-auc'});
T(856,940,'Without metastasis (n = 46)',{fs:7,a:'end',n:'r-legend'});T(856,951,'With metastasis (n = 47)',{fs:7,a:'end',n:'r-legend'});
</script>
</body></html>
